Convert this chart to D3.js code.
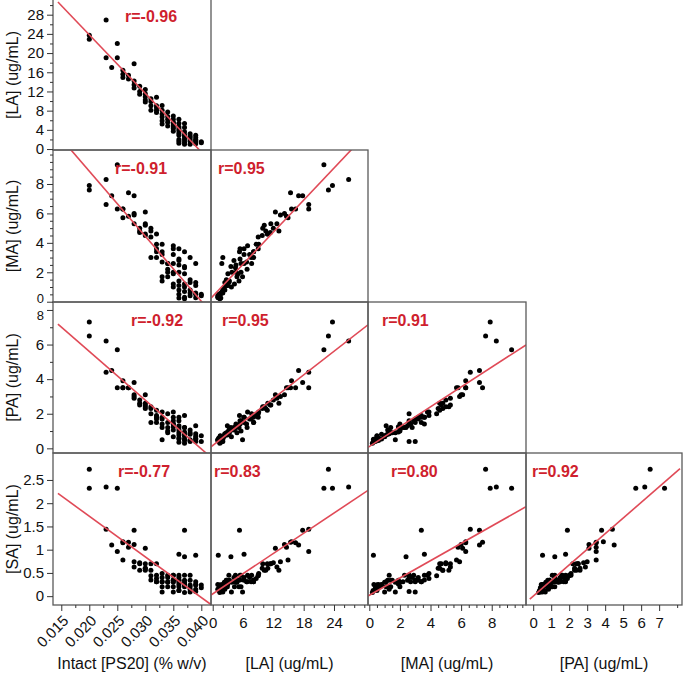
<!DOCTYPE html>
<html><head><meta charset="utf-8">
<script src="https://cdn.jsdelivr.net/npm/d3@7/dist/d3.min.js"></script>
<style>
body{margin:0;background:#fff}
svg{display:block}
text{font-family:"Liberation Sans",Arial,Helvetica,sans-serif}
</style>
</head><body>
<svg id="chart" width="685" height="675"></svg>
<script>
// ---------------- DATA (one entry per sample) ----------------
const ps20 = [0.020,0.020,0.023,0.023,0.024,0.025,0.025,0.026,0.026,0.027,
  0.028,0.028,0.028,0.028,0.029,0.029,0.030,0.030,0.030,0.030,
  0.031,0.031,0.031,0.032,0.032,0.032,0.032,0.033,0.033,0.033,
  0.033,0.033,0.034,0.034,0.034,0.035,0.035,0.035,0.035,0.035,
  0.035,0.036,0.036,0.036,0.036,0.036,0.036,0.036,0.037,0.037,
  0.037,0.037,0.037,0.037,0.038,0.038,0.038,0.038,0.039,0.039,
  0.039,0.039,0.040,0.034,0.035,0.036,0.037,0.038,0.039,0.040,
  0.033,0.032,0.031,0.030,0.029,0.027,0.026,0.036,0.037,0.038,
  0.035,0.034,0.039,0.036,0.037];
const la = [22.9,23.7,26.9,19.0,17.0,22.0,19.0,15.6,14.9,15.4,
  17.8,14.2,13.4,12.7,13.1,11.4,12.4,11.5,10.2,9.8,
  9.9,9.0,8.1,10.8,9.0,8.1,7.6,9.1,8.1,6.7,
  5.9,5.2,7.7,6.8,5.6,6.9,6.2,5.6,5.0,4.3,
  3.7,6.2,5.4,4.6,3.8,2.9,2.0,1.2,5.3,4.5,
  3.6,2.7,1.9,1.0,2.0,3.2,2.4,1.0,1.8,2.9,
  1.1,2.0,1.5,4.8,4.6,3.3,2.3,1.6,1.5,1.3,
  7.3,8.6,10.5,10.9,12.0,14.6,16.4,4.2,3.0,2.7,
  5.4,6.2,2.4,1.6,1.4];
const ma = [7.6,7.9,8.3,6.6,7.2,9.3,6.3,6.3,5.7,7.4,
  7.2,6.0,5.9,5.3,4.8,4.7,6.1,5.3,5.2,4.5,
  5.0,4.4,3.0,4.6,3.6,3.4,3.0,3.9,3.4,2.7,
  1.7,1.4,2.6,2.2,2.0,3.8,3.2,2.6,1.9,1.2,
  1.0,3.6,2.9,2.5,2.0,1.1,0.8,0.5,3.4,2.3,
  2.4,1.2,0.7,0.3,3.0,1.3,0.8,0.4,2.6,1.1,
  0.27,0.6,0.5,1.7,2.0,1.4,1.0,0.6,0.5,0.4,
  3.2,3.9,4.8,4.6,5.0,5.8,6.3,2.8,1.9,1.5,
  3.6,2.6,1.3,0.25,0.2];
const pa = [6.5,7.3,6.2,4.4,4.5,5.7,3.5,3.9,3.5,3.5,
  3.8,3.1,3.0,2.9,2.6,2.5,3.1,2.5,2.4,2.3,
  2.4,2.0,1.5,2.2,1.8,1.5,1.7,2.1,1.8,1.4,
  0.5,1.2,2.0,1.2,1.0,2.1,1.8,1.6,1.25,1.06,
  0.67,1.8,1.6,1.3,1.06,0.77,0.54,0.6,1.9,1.2,
  1.2,0.81,0.54,0.45,0.40,1.06,0.81,0.5,0.40,1.31,
  0.52,0.58,0.73,0.9,1.4,0.9,0.7,0.45,0.7,0.4,
  1.7,1.9,2.3,2.6,2.8,3.5,3.5,1.2,0.95,0.9,
  1.4,1.5,0.85,0.35,0.3];
const sa = [2.73,2.32,2.35,1.44,1.10,2.32,0.96,1.17,0.78,1.16,
  1.42,1.11,0.74,0.63,0.56,0.70,1.03,0.70,0.56,0.60,
  0.70,0.44,0.35,0.70,0.45,0.31,0.31,0.49,0.31,0.31,
  0.09,0.20,0.45,0.31,0.20,0.45,0.34,0.45,0.34,0.20,
  0.09,0.90,0.45,0.34,0.30,0.20,0.25,0.12,1.42,0.45,
  0.85,0.34,0.20,0.25,0.09,0.45,0.24,0.15,0.10,0.31,
  0.88,0.25,0.24,0.30,0.30,0.34,0.30,0.20,0.24,0.18,
  0.40,0.38,0.56,0.60,0.72,1.05,1.15,0.40,0.26,0.34,
  0.35,0.40,0.15,0.12,0.08];

// variables: columns (x) and rows (y)
const colVars = [ps20, la, ma, pa];
const rowVars = [la, ma, pa, sa];
const colTitles = ["Intact [PS20] (% w/v)", "[LA] (ug/mL)", "[MA] (ug/mL)", "[PA] (ug/mL)"];
const rowTitles = ["[LA] (ug/mL)", "[MA] (ug/mL)", "[PA] (ug/mL)", "[SA] (ug/mL)"];

// correlation labels per panel [row][col]
const rLabels = [["r=-0.96"],
                 ["r=-0.91","r=0.95"],
                 ["r=-0.92","r=0.95","r=0.91"],
                 ["r=-0.77","r=0.83","r=0.80","r=0.92"]];
// fitted lines y = a + b*x per panel [row][col]
const fitA = [[48.2],[17.71,0.37],[11.23,0.164,0.10],[3.47,0.048,0.02,0.0]];
const fitB = [[-1220],[-442,0.363],[-281.6,0.227,0.574],[-87.5,0.0725,0.186,0.336]];
const fitXStart = [0.0144, -0.34, -0.085, -0.19];
const fitXEnd   = [0.0417, 30.73, 10.24, 8.16];

// axis ranges
const colDomains = [[0.01352,0.04173],[-0.34,30.73],[-0.085,10.24],[-0.4,8.27]];
const rowDomains = [[-0.2,31.27],[-0.02,10.31],[-0.27,8.46],[-0.19,3.08]];

// ticks
const colMajor = [[0.015,0.020,0.025,0.030,0.035,0.040],[0,6,12,18,24],[0,2,4,6,8],[0,1,2,3,4,5,6,7]];
const colTickLabels = [["0.015","0.020","0.025","0.030","0.035","0.040"],["0","6","12","18","24"],["0","2","4","6","8"],["0","1","2","3","4","5","6","7"]];
const colMinor = [[0.0175,0.0225,0.0275,0.0325,0.0375],
                  [2,4,8,10,14,16,20,22,26,28,30],
                  [0.5,1,1.5,2.5,3,3.5,4.5,5,5.5,6.5,7,7.5,8.5,9,9.5,10],
                  [8]];
const rowMajor = [[0,4,8,12,16,20,24,28],[0,2,4,6,8],[0,2,4,6,8],[0,0.5,1,1.5,2,2.5]];
const rowTickLabels = [["0","4","8","12","16","20","24","28"],["0","2","4","6","8"],["0","2","4","6","8"],["0","0.5","1","1.5","2","2.5"]];
const rowMinor = [[2,6,10,14,18,22,26,30],
                  [0.5,1,1.5,2.5,3,3.5,4.5,5,5.5,6.5,7,7.5,8.5,9,9.5,10],
                  [1,3,5,7],
                  []];

// ---------------- LAYOUT ----------------
const colEdges = [53,211,368,526,682];
const rowEdges = [-1,150,302,453,605];
const rOffsets = [[72],[62,7],[78,11,14],[65,3,23,6]];
const rTop = [16,18,18,18];
const RED_TEXT = "#cf1f2e", RED_LINE = "#e04a57", FRAME = "#5a5a5a";

const svg = d3.select("#chart");
const xScales = colDomains.map((d,i)=>d3.scaleLinear().domain(d).range([colEdges[i],colEdges[i+1]]));
const yScales = rowDomains.map((d,i)=>d3.scaleLinear().domain(d).range([rowEdges[i+1],rowEdges[i]]));

const defs = svg.append("defs");

for (let r=0;r<4;r++){
  for (let c=0;c<=r;c++){
    const xs=xScales[c], ys=yScales[r];
    const x0=colEdges[c], x1=colEdges[c+1], y0=rowEdges[r], y1=rowEdges[r+1];
    const id=`clip-${r}-${c}`;
    defs.append("clipPath").attr("id",id).append("rect")
      .attr("x",x0).attr("y",y0).attr("width",x1-x0).attr("height",y1-y0);
    const g=svg.append("g");
    const xv=colVars[c], yv=rowVars[r];
    g.append("g").attr("clip-path",`url(#${id})`).selectAll("circle")
      .data(d3.range(xv.length)).join("circle")
      .attr("cx",i=>xs(xv[i])).attr("cy",i=>ys(yv[i])).attr("r",2.5).attr("fill","#000");
    const lx=[fitXStart[c],fitXEnd[c]];
    g.append("line").attr("clip-path",`url(#${id})`)
      .attr("x1",xs(lx[0])).attr("y1",ys(fitA[r][c]+fitB[r][c]*lx[0]))
      .attr("x2",xs(lx[1])).attr("y2",ys(fitA[r][c]+fitB[r][c]*lx[1]))
      .attr("stroke",RED_LINE).attr("stroke-width",1.6);
    g.append("rect").attr("x",x0).attr("y",y0).attr("width",x1-x0).attr("height",y1-y0)
      .attr("fill","none").attr("stroke",FRAME).attr("stroke-width",1.3);
    g.append("text").attr("x",x0+rOffsets[r][c]).attr("y",Math.max(y0,0)+rTop[r])
      .attr("dominant-baseline","central").attr("fill",RED_TEXT)
      .attr("font-weight","bold").attr("font-size",16).text(rLabels[r][c]);
  }
}

function styleAxis(g){
  g.select(".domain").remove();
  g.selectAll(".tick line").attr("stroke","#333");
  g.selectAll("text").attr("font-size",15).attr("fill","#111")
    .attr("font-family","'Liberation Sans',Arial,sans-serif");
}

// Y axes
for (let r=0;r<4;r++){
  const ys=yScales[r];
  svg.append("g").attr("transform",`translate(${colEdges[0]},0)`)
    .call(d3.axisLeft(ys).tickValues(rowMinor[r]).tickSize(3).tickFormat(""))
    .call(styleAxis);
  const ay = svg.append("g").attr("transform",`translate(${colEdges[0]},0)`)
    .call(d3.axisLeft(ys).tickValues(rowMajor[r]).tickSize(6).tickPadding(3)
      .tickFormat((d,i)=>rowTickLabels[r][i]))
    .call(styleAxis);
  // where the 0 of one row meets the top label of the next row, keep them apart
  if (r===1) ay.selectAll("text").filter(d=>d===0).attr("font-size",13).attr("dy","0.05em");
  if (r===2) ay.selectAll("text").filter(d=>d===8).attr("font-size",13).attr("dy","0.72em");
  svg.append("text")
    .attr("transform",`translate(12,${(Math.max(rowEdges[r],0)+rowEdges[r+1])/2}) rotate(-90)`)
    .attr("text-anchor","middle").attr("dominant-baseline","central")
    .attr("font-size",16).attr("fill","#111").text(rowTitles[r]);
}

// X axes
const yb = rowEdges[4];
for (let c=0;c<4;c++){
  const xs=xScales[c];
  svg.append("g").attr("transform",`translate(0,${yb})`)
    .call(d3.axisBottom(xs).tickValues(colMinor[c]).tickSize(3).tickFormat(""))
    .call(styleAxis);
  const ax=svg.append("g").attr("transform",`translate(0,${yb})`)
    .call(d3.axisBottom(xs).tickValues(colMajor[c]).tickSize(6).tickPadding(6)
      .tickFormat((d,i)=>colTickLabels[c][i]))
    .call(styleAxis);
  if (c===0){
    ax.selectAll("text").attr("x",0).attr("y",0).attr("dy","0.35em")
      .attr("transform","translate(4,13) rotate(-45)").style("text-anchor","end");
  }
  svg.append("text").attr("x",(colEdges[c]+colEdges[c+1])/2).attr("y",663)
    .attr("text-anchor","middle").attr("dominant-baseline","central")
    .attr("font-size",16).attr("fill","#111").text(colTitles[c]);
}
</script>
</body></html>
